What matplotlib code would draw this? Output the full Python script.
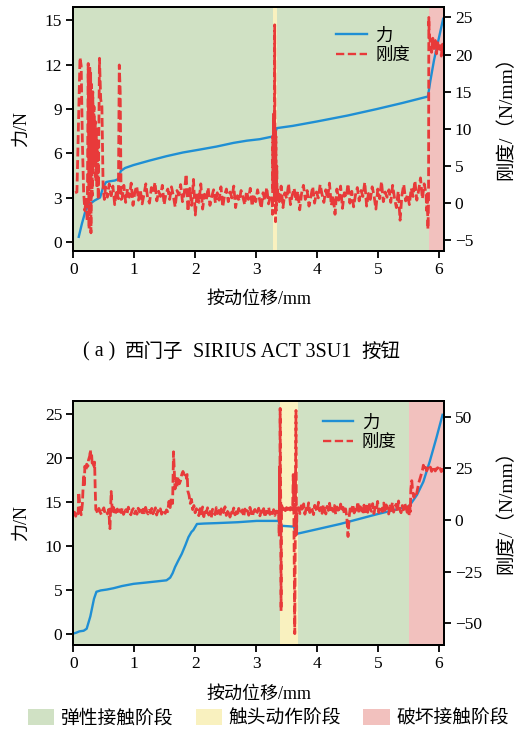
import numpy as np
import matplotlib.pyplot as plt
from matplotlib.patches import Patch
from matplotlib.lines import Line2D
from matplotlib.offsetbox import TextArea, HPacker, AnchoredOffsetbox

plt.rcParams['font.family'] = ['Liberation Serif', 'Noto Sans CJK SC']
plt.rcParams['axes.unicode_minus'] = True

# ---------------- (a) top panel data ----------------
# force (N) vs displacement (mm)
top_fx = [0.09, 0.14, 0.20, 0.25, 0.30, 0.35, 0.44, 0.49, 0.54, 0.60, 0.68, 0.74, 0.78,
          0.85, 0.99, 1.25, 1.53, 1.80, 2.08, 2.35, 2.63, 2.85, 3.06, 3.27, 3.30, 3.34,
          3.60, 4.00, 4.50, 4.98, 5.40, 5.82, 5.86, 5.92, 6.00, 6.07]
top_fy = [0.34, 1.2, 2.1, 2.5, 2.65, 2.8, 3.0, 3.7, 4.05, 4.1, 4.15, 4.25, 4.8,
          5.0, 5.2, 5.5, 5.8, 6.05, 6.25, 6.45, 6.7, 6.85, 6.95, 7.13, 7.2, 7.7,
          7.85, 8.15, 8.55, 8.99, 9.4, 9.84, 10.9, 12.3, 13.8, 15.1]

# stiffness (N/mm): start spikes
top_k1x = [0.03, 0.06, 0.09, 0.11, 0.13, 0.15, 0.17, 0.19, 0.21, 0.23, 0.245, 0.26,
           0.27, 0.28, 0.285, 0.29, 0.30, 0.31, 0.32, 0.33, 0.34, 0.35, 0.36, 0.37,
           0.38, 0.39, 0.40, 0.41, 0.43, 0.45, 0.47, 0.49, 0.51, 0.53, 0.56, 0.59,
           0.62, 0.65, 0.68, 0.71, 0.74, 0.755, 0.77, 0.785]
top_k1y = [1.4, 1.5, 12.0, 19.6, 18.5, 8.0, 1.5, -1.0, 0.5, -2.5, 18.8, -3.5,
           18.5, 3.0, 17.5, -4.0, 16.0, 1.0, 15.0, 5.0, 13.0, 7.0, 11.0, 3.0,
           10.0, 2.0, 8.0, 0.5, 19.5, 14.0, 13.0, 2.0, 0.5, 2.2, 0.8, 2.6,
           1.0, 2.3, -0.2, 1.8, 0.6, 18.6, 15.0, 0.5]
# noise band 0.80 - 3.26
top_k2 = [0.6, 2.4, 0.1, 1.9, 0.8, 2.7, -0.3, 1.5, 2.3, 0.4, 1.8, -0.1, 1.2, 2.6, 0.7,
          0.0, 2.1, 1.4, 2.8, 0.3, 1.6, 0.9, 2.4, -0.2, 1.3, 1.9, 0.5, 2.2, 1.0, -0.5,
          1.7, 1.1, 2.5, 0.2, 1.4, 3.9, -1.1, 2.0, -0.3, 3.2, -1.6, 1.5, 0.1, 2.6, -0.8,
          1.2, 0.4, 2.1, -0.3, 0.9, 1.8, 0.0, 1.4, 0.4, 2.2, -0.5, 1.1, 1.9, 0.2, 1.5,
          0.7, 2.3, -0.6, 1.0, 0.3, 1.7, 0.8, -0.2, 1.6, 0.5, 2.0, -0.4, 1.2, 0.2, 1.8,
          0.6, -0.7, 1.4, 0.4, 2.1, -0.1, 1.0, 0.5]
# contact action spike
top_k3x = [3.27, 3.275, 3.28, 3.285, 3.29, 3.295, 3.30, 3.305, 3.31, 3.315, 3.32,
           3.325, 3.33, 3.34, 3.345]
top_k3y = [-1.5, 9.0, 2.0, 12.0, 4.0, 11.0, 1.0, 24.0, 8.0, 10.0, -2.5,
           9.0, -1.0, 5.0, 0.5]
# noise band 3.35 - 5.79
top_k4 = [1.8, 0.2, 2.3, -0.6, 1.4, 0.6, 2.6, -0.2, 1.1, 2.0, 0.3, 1.6, -0.9, 1.3, 2.4,
          0.5, 1.7, -0.4, 0.9, 2.2, 0.0, 1.5, 0.7, 2.5, 1.2, 0.1, 1.8, 0.6, 2.7, -0.3,
          1.0, -1.5, 1.9, 0.4, 2.3, -0.7, 1.4, 0.8, 2.6, 0.0, 1.6, -0.5, 1.1, 2.1, 0.3,
          1.7, 0.9, 2.8, -0.4, 1.3, 0.5, 2.2, 1.0, -0.8, 1.9, 0.6, 2.9, 0.2, 1.5, 0.8,
          1.8, 0.1, 2.4, 0.7, -0.6, 1.6, -2.3, 1.1, 2.5, 0.3, 1.2, -0.2, 2.0, 0.9, 3.0,
          0.4, 1.7, 3.4, 0.6, 2.6, 1.2]
# failure stage
top_k5x = [5.80, 5.81, 5.82, 5.83, 5.835, 5.84, 5.86, 5.88, 5.90, 5.92, 5.94, 5.96,
           5.98, 6.00, 6.02, 6.04, 6.06, 6.07]
top_k5y = [-1.0, 1.5, -3.5, 0.0, 25.0, 23.0, 21.5, 20.3, 22.2, 20.8, 21.9, 20.1,
           21.6, 20.4, 21.2, 19.8, 21.4, 20.6]

top_edges = [0, 3.27, 3.34, 5.84, 6.08]
top_phase = [0, 1, 0, 2]

# ---------------- (b) bottom panel data ----------------
bot_fx = [0.0, 0.05, 0.10, 0.17, 0.22, 0.25, 0.28, 0.31, 0.34, 0.38, 0.45, 0.55,
          0.66, 0.80, 0.99, 1.20, 1.40, 1.53, 1.59, 1.63, 1.67, 1.72, 1.78, 1.84,
          1.89, 1.94, 1.97, 2.03, 2.15, 2.36, 2.70, 3.01, 3.37, 3.40, 3.62, 3.65,
          4.00, 4.38, 4.98, 5.51, 5.64, 5.745, 5.85, 5.96, 6.06]
bot_fy = [0.05, 0.15, 0.3, 0.37, 0.6, 1.3, 2.0, 3.0, 4.0, 4.8, 4.95, 5.05,
          5.2, 5.45, 5.7, 5.85, 6.0, 6.1, 6.4, 6.9, 7.6, 8.3, 9.1, 10.1,
          11.0, 11.6, 11.8, 12.5, 12.55, 12.6, 12.7, 12.85, 12.85, 12.3, 12.2, 11.35,
          11.9, 12.5, 13.6, 14.5, 15.8, 17.3, 19.6, 22.3, 24.9]

bot_kAx = [0.0, 0.02, 0.04, 0.06, 0.08, 0.09, 0.11, 0.13, 0.15, 0.17, 0.18, 0.19,
           0.21, 0.22, 0.24, 0.25, 0.27, 0.28, 0.29, 0.30, 0.31, 0.33, 0.34, 0.35,
           0.36, 0.37]
bot_kAy = [2.5, 3.8, 1.8, 4.0, 3.0, 13.4, 6.0, 2.5, 8.0, 22.0, 16.0, 26.0,
           24.0, 27.0, 26.0, 29.0, 31.0, 34.0, 30.0, 32.0, 27.5, 28.5, 26.0, 28.0,
           15.0, 5.0]
bot_kB = [4.8, 3.2, 5.6, 3.9, 2.6, 4.7, 5.9, 3.4, 4.2, 2.9, 5.1, -4.2, 13.8, 3.1, 6.0,
          2.4, 4.5, 5.3, 3.0, 4.9, 3.6, 5.8, 2.7, 4.1, 5.0, 3.3, 6.2, 3.8, 2.5, 4.6,
          5.5, 3.1, 4.4, 2.8, 5.7, 3.9, 4.8, 2.6, 5.2, 3.5, 6.1, 4.0, 2.9, 4.7, 3.4,
          5.6, 3.0, 4.3, 5.9, 2.4, 4.6, 3.7, 5.4, 2.8, 4.1, 5.0, 3.2, 4.9, 4.0]
bot_kCx = [1.57, 1.59, 1.61, 1.63, 1.645, 1.66, 1.67, 1.69, 1.70, 1.72, 1.74, 1.76,
           1.78, 1.80, 1.82, 1.84, 1.86, 1.87, 1.88, 1.90, 1.92, 1.94, 1.96, 1.98,
           2.00, 2.02]
bot_kCy = [9.0, 6.0, 11.0, 8.0, 33.0, 22.0, 15.0, 20.0, 16.0, 21.0, 17.5, 19.0,
           22.0, 23.5, 22.0, 23.0, 20.0, 22.0, 14.0, 12.0, 8.0, 10.0, 5.0, 7.0,
           3.5, 5.5]
bot_kD = [4.4, 2.1, 5.5, 3.0, 6.3, 1.6, 4.8, 3.5, 5.9, 2.4, 4.1, 1.2, 5.2, 3.8, 2.6,
          6.0, 3.1, 4.6, 1.8, 5.4, 2.9, 4.3, 6.4, 2.2, 3.9, 5.0, 1.4, 4.7, 3.3, 5.8,
          2.5, 4.0, 1.9, 5.6, 3.6, 2.8, 4.9, 1.5, 5.3, 3.2, 4.5, 2.3, 6.1, 3.7, 1.7,
          4.2, 5.1, 2.6, 3.9, 5.7, 2.0, 4.4, 3.0, 5.5, 1.3, 4.1, 3.4, 6.2, 2.7, 4.8,
          3.1, 5.0, 2.2, 4.3, 3.6, 5.2]
bot_kEx = [3.38, 3.385, 3.39, 3.395, 3.40, 3.405, 3.41, 3.415, 3.42, 3.44, 3.46, 3.48,
           3.50, 3.52, 3.54, 3.56, 3.58, 3.60, 3.61, 3.62, 3.635, 3.645, 3.655, 3.66,
           3.665, 3.67, 3.69]
bot_kEy = [-8.0, 26.0, 4.0, 54.0, 20.0, 8.0, -44.0, 2.0, 7.0, 5.0, 6.5, 4.5,
           6.0, 5.0, 7.0, 4.8, 6.0, 5.0, 22.0, 3.0, -55.0, 5.0, 53.0, 14.0,
           -7.0, 4.0, 6.0]
bot_kF = [5.8, 3.1, 6.9, 4.2, 7.8, 2.8, 5.5, 4.0, 8.3, 3.6, 6.2, 4.9, 2.6, 7.1, 5.3,
          3.9, 8.6, 4.4, 6.0, 3.2, 7.4, 5.0, 2.9, 6.6, 4.6, 8.1, 3.5, 5.7, 4.1, 7.0,
          2.7, 6.3, 5.2, 3.8, 7.7, 4.5, 6.1, 3.0, 5.4, 1.5, -8.0, 2.2, 6.8, 4.3, 7.5,
          3.4, 5.9, 4.7, 8.8, 3.3, 6.4, 5.1, 2.8, 7.2, 4.0, 6.7, 3.7, 8.4, 5.5, 4.2,
          7.9, 3.1, 6.0, 4.8, 9.0, 3.6, 6.5, 5.3, 4.1, 8.2, 3.9, 7.3, 5.0, 2.9, 6.8,
          4.6, 8.5, 3.8, 5.8, 7.6, 4.4, 9.2, 5.2, 3.5, 7.0, 4.9, 8.0, 6.1, 3.7, 6.6]
bot_kGx = [5.51, 5.52, 5.53, 5.54, 5.555, 5.57, 5.59, 5.61, 5.63, 5.65, 5.67, 5.69,
           5.71, 5.73, 5.745, 5.76, 5.78, 5.80, 5.82, 5.84, 5.86, 5.88, 5.90, 5.92,
           5.94, 5.96, 5.98, 6.00, 6.02, 6.04, 6.06, 6.08]
bot_kGy = [2.0, 8.0, 4.0, 15.0, 19.0, 14.0, 11.0, 13.0, 12.0, 15.0, 18.0, 20.0,
           22.0, 24.0, 26.5, 24.0, 25.5, 23.8, 25.2, 24.3, 25.6, 23.5, 24.8, 25.9,
           23.7, 24.6, 25.3, 23.9, 24.9, 23.4, 24.5, 24.0]

bot_edges = [0, 3.40, 3.69, 5.51, 6.08]
bot_phase = [0, 1, 0, 2]

phase_names = ['弹性接触阶段', '触头动作阶段', '破坏接触阶段']
phase_colors = ['#d0e1c4', '#f9f1bf', '#f2c1be']
c_force = '#1f8fd4'
c_stiff = '#e83a3a'


def band(x0, x1, vals):
    return list(np.linspace(x0, x1, len(vals))), list(vals)


def join(*parts):
    xs, ys = [], []
    for px, py in parts:
        xs += list(px)
        ys += list(py)
    return xs, ys


top_kx, top_ky = join((top_k1x, top_k1y), band(0.80, 3.265, top_k2), (top_k3x, top_k3y),
                      band(3.35, 5.79, top_k4), (top_k5x, top_k5y))
bot_kx, bot_ky = join((bot_kAx, bot_kAy), band(0.38, 1.55, bot_kB), (bot_kCx, bot_kCy),
                      band(2.04, 3.37, bot_kD), (bot_kEx, bot_kEy),
                      band(3.70, 5.50, bot_kF), (bot_kGx, bot_kGy))


def panel(rect, fx, fy, kx, ky, edges, phase, flim, fticks, klim, kticks, leg_xy):
    ax = fig.add_axes(rect)
    for i, p in enumerate(phase):
        ax.axvspan(edges[i], edges[i + 1], color=phase_colors[p], lw=0, zorder=0)
    ax.plot(fx, fy, color=c_force, lw=1.7)
    ax.set_xlim(0, 6.08)
    ax.set_ylim(*flim)
    ax.set_yticks(fticks)
    ax.set_xticks(range(7))
    ax.set_ylabel('力/N', fontsize=13)
    ax.yaxis.set_label_coords(-0.14, 0.5)
    ax.yaxis.label.set_va('center')
    ax.set_xlabel('按动位移/mm', fontsize=13, labelpad=9.5)

    ax2 = ax.twinx()
    ax2.plot(kx, ky, color=c_stiff, lw=2.0, ls='--', dashes=(3.2, 1.3))
    ax2.set_ylim(*klim)
    ax2.set_yticks(kticks)
    ax2.set_ylabel('刚度/（N/mm）', fontsize=14)
    ax2.yaxis.set_label_coords(1.17, 0.565)
    ax2.yaxis.label.set_va('center')

    for a in (ax, ax2):
        a.tick_params(direction='out', length=5, width=1.3, labelsize=12.5, pad=3)
        for s in a.spines.values():
            s.set_linewidth(1.4)

    handles = [Line2D([], [], color=c_force, lw=1.7),
               Line2D([], [], color=c_stiff, lw=1.7, ls='--', dashes=(3.5, 1.5))]
    ax2.legend(handles, ['力', '刚度'], loc='upper left', bbox_to_anchor=leg_xy,
               frameon=False, fontsize=12.5, handlelength=1.75, handletextpad=0.5,
               labelspacing=0.2, borderpad=0.2)
    return ax


fig = plt.figure(figsize=(5.16, 7.38), dpi=100)

panel([0.142, 0.6603, 0.718, 0.3302], top_fx, top_fy, top_kx, top_ky, top_edges, top_phase,
      (-0.6, 15.9), [0, 3, 6, 9, 12, 15], (-6.4, 26.4), [-5, 0, 5, 10, 15, 20, 25],
      (0.677, 0.963))
panel([0.142, 0.1260, 0.718, 0.3310], bot_fx, bot_fy, bot_kx, bot_ky, bot_edges, bot_phase,
      (-1.25, 26.5), [0, 5, 10, 15, 20, 25], (-60.5, 57.7), [-50, -25, 0, 25, 50],
      (0.64, 0.99))

caption = [('( a )', 14.5), ('西门子', 14), ('SIRIUS ACT 3SU1', 14.5), ('按钮', 14)]
cap_box = HPacker(children=[TextArea(t, textprops=dict(fontsize=s)) for t, s in caption],
                  align='baseline', pad=0, sep=7)
fig.add_artist(AnchoredOffsetbox(loc='center', child=cap_box, frameon=False, pad=0,
                                 borderpad=0, bbox_to_anchor=(0.468, 0.523),
                                 bbox_transform=fig.transFigure))

fig.legend([Patch(facecolor=c, edgecolor='none') for c in phase_colors], phase_names,
           loc='center', bbox_to_anchor=(0.52, 0.027), ncol=3, frameon=False,
           fontsize=13.5, handlelength=1.4, handleheight=1.0, handletextpad=0.35,
           columnspacing=1.2)

fig.savefig('out.png', dpi=100)
